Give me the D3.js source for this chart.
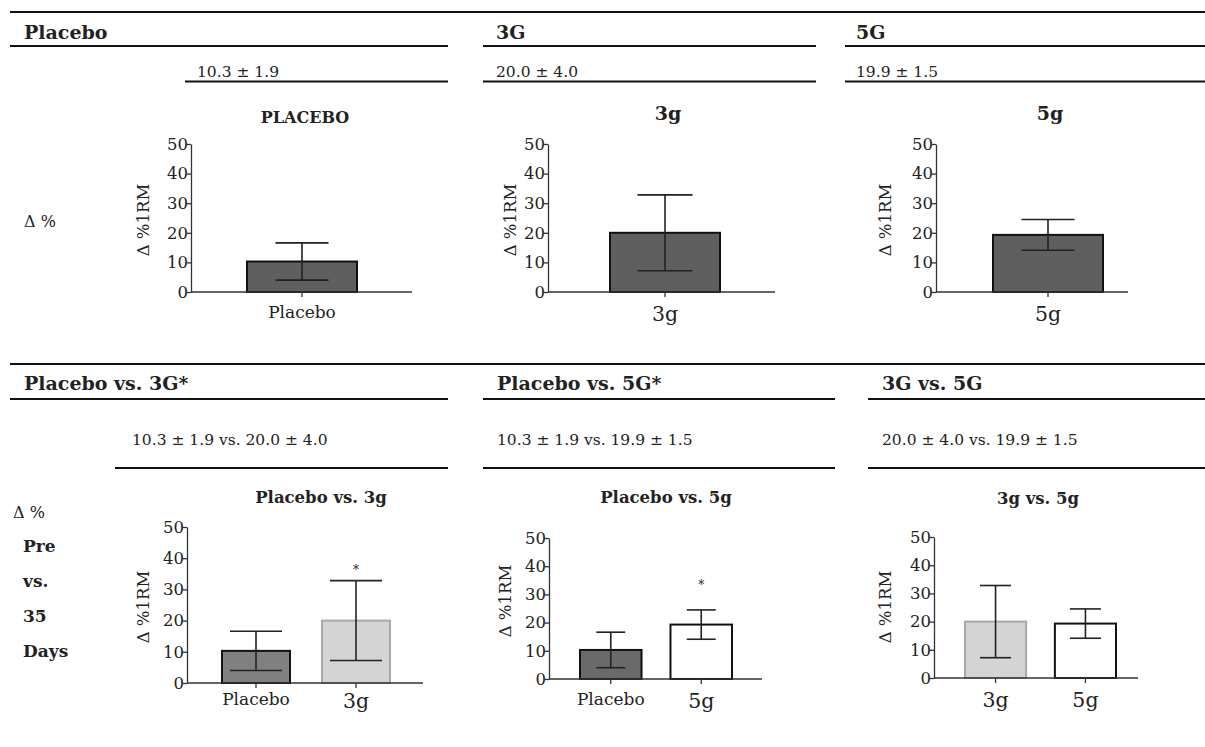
<!DOCTYPE html>
<html>
<head>
<meta charset="utf-8">
<script src="https://cdn.jsdelivr.net/npm/d3@7"></script>
<style>
  body { margin: 0; background: #fff; }
  svg text { font-family: "DejaVu Serif", serif; fill: #222; }
</style>
</head>
<body>
<script>
// data
var groups = ["Placebo", "3g", "5g"];
var means = [10.3, 20.0, 19.3];
var sds = [6.3, 12.8, 5.2];

var topHeaders = ["Placebo", "3G", "5G"];
var topValues = ["10.3 \u00b1 1.9", "20.0 \u00b1 4.0", "19.9 \u00b1 1.5"];
var bottomHeaders = ["Placebo vs. 3G*", "Placebo vs. 5G*", "3G vs. 5G"];
var bottomValues = ["10.3 \u00b1 1.9 vs. 20.0 \u00b1 4.0", "10.3 \u00b1 1.9 vs. 19.9 \u00b1 1.5", "20.0 \u00b1 4.0 vs. 19.9 \u00b1 1.5"];
var bottomRowLabels = ["Pre", "vs.", "35", "Days"];

var panelTitles = ["PLACEBO", "3g", "5g", "Placebo vs. 3g", "Placebo vs. 5g", "3g vs. 5g"];
var panelGroups = [["Placebo"], ["3g"], ["5g"], ["Placebo", "3g"], ["Placebo", "5g"], ["3g", "5g"]];
var panelSig = [[], [], [], ["3g"], ["5g"], []];
var yTicks = [0, 10, 20, 30, 40, 50];
var yLabel = "\u0394 %1RM";

var width = 1205, height = 747;

var svg = d3.select("body").append("svg")
    .attr("width", width)
    .attr("height", height);

// ---- table frame ----
var rules = [
  [10, 1205, 12], [10, 448, 46], [483, 816, 46], [845, 1205, 46],
  [185, 448, 81.5], [483, 816, 81.5], [845, 1205, 81.5],
  [10, 1205, 364], [10, 448, 399], [483, 835, 399], [868, 1205, 399],
  [115, 448, 468], [483, 835, 468], [868, 1205, 468]
];
svg.selectAll("line.rule").data(rules).enter().append("line")
    .attr("class", "rule")
    .attr("x1", function(d) { return d[0]; })
    .attr("x2", function(d) { return d[1]; })
    .attr("y1", function(d) { return d[2]; })
    .attr("y2", function(d) { return d[2]; })
    .attr("stroke", "#111")
    .attr("stroke-width", 2);

var topHeadX = [24, 496, 856];
var topValX = [197, 496, 856];
var botHeadX = [24, 497, 882];
var botValX = [132, 497, 882];

svg.selectAll("text.th").data(topHeaders).enter().append("text")
    .attr("x", function(d, i) { return topHeadX[i]; })
    .attr("y", 39)
    .style("font-size", "19px").style("font-weight", "bold")
    .text(function(d) { return d; });
svg.selectAll("text.tv").data(topValues).enter().append("text")
    .attr("x", function(d, i) { return topValX[i]; })
    .attr("y", 77)
    .style("font-size", "15.5px")
    .text(function(d) { return d; });
svg.selectAll("text.bh").data(bottomHeaders).enter().append("text")
    .attr("x", function(d, i) { return botHeadX[i]; })
    .attr("y", 390)
    .style("font-size", "19px").style("font-weight", "bold")
    .text(function(d) { return d; });
svg.selectAll("text.bv").data(bottomValues).enter().append("text")
    .attr("x", function(d, i) { return botValX[i]; })
    .attr("y", 445)
    .style("font-size", "15.5px")
    .text(function(d) { return d; });

// row labels
svg.append("text").attr("x", 24).attr("y", 227).style("font-size", "16px").text("\u0394 %");
svg.append("text").attr("x", 13).attr("y", 518).style("font-size", "16px").text("\u0394 %");
svg.selectAll("text.rl").data(bottomRowLabels).enter().append("text")
    .attr("x", 23)
    .attr("y", function(d, i) { return 552 + i * 35; })
    .style("font-size", "17px").style("font-weight", "bold")
    .text(function(d) { return d; });

// ---- bar panels ----
var layout = [
  {x0:191, x1:412, yTop:144, yBot:292, bandL:247, bandR:357, pad:0, capW:53, tx:305, ty:123, ts:16, lx:143, ly:220, lpad:9,
   fills:["#5f5f5f"], strokes:["#111"]},
  {x0:548, x1:775, yTop:144, yBot:292, bandL:610, bandR:720, pad:0, capW:55, tx:668, ty:120, ts:19, lx:510, ly:220, lpad:9,
   fills:["#5f5f5f"], strokes:["#111"]},
  {x0:936, x1:1128, yTop:144, yBot:292, bandL:993, bandR:1103, pad:0, capW:53, tx:1050, ty:120, ts:19, lx:885, ly:220, lpad:9,
   fills:["#5f5f5f"], strokes:["#111"]},
  {x0:187, x1:423, yTop:527, yBot:683, bandL:222, bandR:390, pad:0.32, capW:52, tx:321, ty:503, ts:16.5, lx:143, ly:607, lpad:5, sigOff:14,
   fills:["#808080", "#d4d4d4"], strokes:["#111", "#a8a8a8"]},
  {x0:549, x1:762, yTop:538, yBot:679, bandL:580, bandR:732, pad:0.32, capW:29, tx:666, ty:503, ts:16.5, lx:505, ly:601, lpad:9, sigOff:28,
   fills:["#6a6a6a", "#ffffff"], strokes:["#111", "#111"]},
  {x0:934, x1:1138, yTop:537, yBot:678, bandL:965, bandR:1116, pad:0.32, capW:31, tx:1038, ty:504, ts:16.5, lx:885, ly:607, lpad:9,
   fills:["#d4d4d4", "#ffffff"], strokes:["#a8a8a8", "#111"]}
];

var catFont = {"Placebo": 17, "3g": 20.5, "5g": 20.5};

layout.forEach(function(L, p) {
  var cats = panelGroups[p];
  var g = svg.append("g").attr("class", "panel");

  var x = d3.scaleBand().domain(cats).range([L.bandL, L.bandR]).paddingInner(L.pad).paddingOuter(0);
  var y = d3.scaleLinear().domain([0, 50]).range([L.yBot, L.yTop]);

  var rows = cats.map(function(c) {
    var k = groups.indexOf(c);
    return {cat: c, mean: means[k], sd: sds[k]};
  });

  // bars
  g.selectAll("rect.bar").data(rows).enter().append("rect")
      .attr("class", "bar")
      .attr("x", function(d) { return x(d.cat); })
      .attr("y", function(d) { return y(d.mean); })
      .attr("width", x.bandwidth())
      .attr("height", function(d) { return y(0) - y(d.mean); })
      .attr("fill", function(d, i) { return L.fills[i]; })
      .attr("stroke", function(d, i) { return L.strokes[i]; })
      .attr("stroke-width", 2);

  // error bars
  var cx = function(d) { return x(d.cat) + x.bandwidth() / 2; };
  g.selectAll("line.err").data(rows).enter().append("line")
      .attr("x1", cx).attr("x2", cx)
      .attr("y1", function(d) { return y(d.mean - d.sd); })
      .attr("y2", function(d) { return y(d.mean + d.sd); })
      .attr("stroke", "#222").attr("stroke-width", 1.6);
  ["lo", "hi"].forEach(function(side) {
    g.selectAll("line.cap" + side).data(rows).enter().append("line")
        .attr("x1", function(d) { return cx(d) - L.capW / 2; })
        .attr("x2", function(d) { return cx(d) + L.capW / 2; })
        .attr("y1", function(d) { return y(side == "hi" ? d.mean + d.sd : d.mean - d.sd); })
        .attr("y2", function(d) { return y(side == "hi" ? d.mean + d.sd : d.mean - d.sd); })
        .attr("stroke", "#222").attr("stroke-width", 1.6);
  });

  // significance marks
  g.selectAll("text.sig").data(rows.filter(function(d) { return panelSig[p].indexOf(d.cat) >= 0; }))
      .enter().append("text")
      .attr("x", cx)
      .attr("y", function(d) { return y(d.mean + d.sd) - L.sigOff + 7; })
      .attr("text-anchor", "middle")
      .style("font-size", "12px")
      .text("*");

  // y axis
  var ya = g.append("g")
      .attr("transform", "translate(" + L.x0 + ",0)")
      .call(d3.axisLeft(y).tickValues(yTicks).tickSize(4).tickSizeOuter(0).tickPadding(-1));
  ya.select(".domain").attr("stroke", "#333").attr("stroke-width", 1.3);
  ya.selectAll(".tick line").attr("stroke", "#333").attr("stroke-width", 1.3);
  ya.selectAll(".tick text")
      .style("font-family", "DejaVu Serif, serif").style("font-size", "16.5px").attr("fill", "#222");

  // x axis
  var xa = g.append("g")
      .attr("transform", "translate(0," + L.yBot + ")")
      .call(d3.axisBottom(x).tickSize(5).tickSizeOuter(0).tickPadding(L.lpad));
  xa.select(".domain").attr("d", "M" + L.x0 + ",0H" + L.x1)
      .attr("stroke", "#333").attr("stroke-width", 1.3);
  xa.selectAll(".tick line").attr("stroke", "#333").attr("stroke-width", 1.3);
  xa.selectAll(".tick text")
      .style("font-family", "DejaVu Serif, serif")
      .style("font-size", function(d) { return catFont[d] + "px"; })
      .attr("fill", "#222");

  // y label
  g.append("text")
      .attr("transform", "translate(" + L.lx + "," + L.ly + ") rotate(-90)")
      .attr("text-anchor", "middle")
      .attr("dy", "0.35em")
      .style("font-size", "16.5px")
      .text(yLabel);

  // title
  g.append("text")
      .attr("x", L.tx).attr("y", L.ty)
      .attr("text-anchor", "middle")
      .style("font-size", L.ts + "px").style("font-weight", "bold")
      .text(panelTitles[p]);
});
</script>
</body>
</html>
